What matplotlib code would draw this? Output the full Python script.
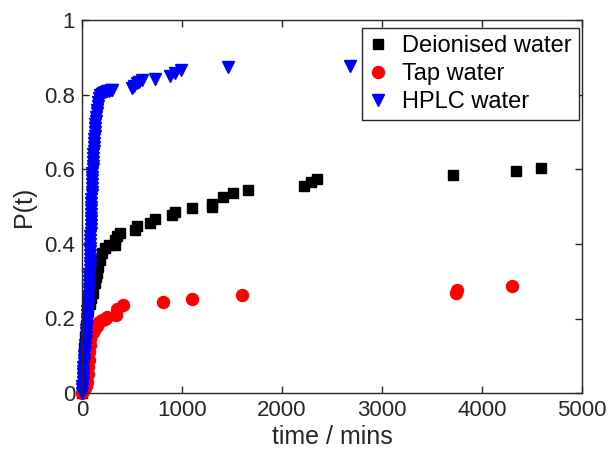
import matplotlib
matplotlib.use("Agg")
import matplotlib.pyplot as plt

plt.rcParams['font.family'] = ['Liberation Sans', 'DejaVu Sans']

# Deionised water
di_t = [0, 5, 10, 15, 20, 30, 40, 50, 60, 75, 90, 110, 130, 140, 150, 160, 180,
        200, 230, 270, 330, 330, 350, 380, 530, 550, 680, 730, 900, 930, 1100,
        1300, 1300, 1410, 1510, 1660, 2220, 2290, 2350, 3710, 4340, 4590]
di_p = [0.0, 0.03, 0.06, 0.09, 0.12, 0.15, 0.18, 0.2, 0.22, 0.24, 0.255, 0.268,
        0.295, 0.31, 0.322, 0.338, 0.357, 0.375, 0.389, 0.397, 0.397, 0.41,
        0.421, 0.429, 0.437, 0.448, 0.456, 0.466, 0.477, 0.485, 0.496, 0.5,
        0.507, 0.526, 0.536, 0.544, 0.555, 0.566, 0.574, 0.584, 0.595, 0.603]

# Tap water
tap_t = [0, 10, 20, 30, 40, 50, 55, 60, 65, 70, 75, 80, 90, 100, 110, 120, 130,
         150, 170, 200, 230, 250, 340, 350, 410, 810, 1100, 1600, 3740, 3750, 4300]
tap_p = [0.0, 0.005, 0.01, 0.015, 0.02, 0.03, 0.05, 0.07, 0.09, 0.11, 0.13, 0.145,
         0.155, 0.16, 0.165, 0.17, 0.175, 0.18, 0.19, 0.196, 0.2, 0.204, 0.209,
         0.225, 0.236, 0.243, 0.252, 0.262, 0.269, 0.277, 0.287]

# HPLC water
hplc_t = [0, 2, 4, 6, 8, 10, 12, 14, 17, 20, 23,
          26, 29, 32, 35, 38, 41, 44, 46, 48, 50,
          52, 54, 57, 59, 62, 64, 66, 68, 70, 72,
          73, 74, 75, 76, 77, 78, 79, 80, 81, 82,
          83, 84, 85, 86, 87, 88, 89, 90, 91, 92,
          93, 94, 95, 96, 98, 99, 101, 102, 104, 106,
          108, 110, 112, 114, 116, 118, 120, 122, 125, 128,
          131, 134, 138, 142, 146, 150, 156, 162, 170, 180,
          195, 210, 225, 245, 265, 285, 300,
          500, 520, 545, 570, 600, 730, 880, 930, 990, 1460, 2680]
hplc_p = [0.0, 0.01, 0.02, 0.03, 0.04, 0.05, 0.06, 0.07, 0.08, 0.09, 0.1,
          0.11, 0.12, 0.13, 0.14, 0.15, 0.16, 0.17, 0.18, 0.19, 0.2,
          0.21, 0.22, 0.23, 0.24, 0.25, 0.26, 0.27, 0.28, 0.29, 0.3,
          0.31, 0.32, 0.33, 0.34, 0.35, 0.36, 0.37, 0.38, 0.39, 0.4,
          0.41, 0.42, 0.43, 0.44, 0.45, 0.46, 0.47, 0.48, 0.49, 0.5,
          0.51, 0.52, 0.53, 0.54, 0.55, 0.56, 0.57, 0.58, 0.59, 0.6,
          0.61, 0.62, 0.63, 0.64, 0.65, 0.66, 0.67, 0.68, 0.69, 0.7,
          0.71, 0.72, 0.73, 0.74, 0.75, 0.76, 0.77, 0.78, 0.79, 0.8,
          0.802, 0.805, 0.807, 0.809, 0.811, 0.812, 0.813,
          0.818, 0.824, 0.83, 0.834, 0.838, 0.842, 0.85, 0.858, 0.866, 0.874, 0.877]

x_ticks = [0, 1000, 2000, 3000, 4000, 5000]
y_ticks = [0, 0.2, 0.4, 0.6, 0.8, 1]
y_labels = ['0', '0.2', '0.4', '0.6', '0.8', '1']

fig = plt.figure(figsize=(6.12, 4.55), dpi=100)
ax = fig.add_axes([0.134, 0.136, 0.817, 0.82])

ax.plot(di_t, di_p, 's', color='black', markersize=7.2, clip_on=False,
        label='Deionised water')
ax.plot(tap_t, tap_p, 'o', color='red', markersize=8.6, clip_on=False,
        label='Tap water')
ax.plot(hplc_t, hplc_p, 'v', color='blue', markersize=8.6, clip_on=False,
        label='HPLC water')

ax.set_xlim(0, 5000)
ax.set_ylim(0, 1)
ax.set_xticks(x_ticks)
ax.set_yticks(y_ticks)
ax.set_yticklabels(y_labels)

edge = '#262626'
for s in ax.spines.values():
    s.set_color(edge)
    s.set_linewidth(1.0)
ax.tick_params(direction='in', top=True, right=True, length=5, width=1.0,
               color=edge, labelsize=16, labelcolor='#262626', pad=5)

ax.set_xlabel('time / mins', fontsize=18, color='#262626', labelpad=3)
ax.set_ylabel('P(t)', fontsize=18, color='#262626', labelpad=6)

leg = ax.legend(loc='upper right', bbox_to_anchor=(0.993, 0.978), fontsize=17,
                frameon=True, fancybox=False, framealpha=1, edgecolor=edge,
                handlelength=0.8, handletextpad=0.6, borderpad=0.3,
                labelspacing=0.25, borderaxespad=0)
leg.get_frame().set_linewidth(1.0)

fig.savefig('out.png', dpi=100)
